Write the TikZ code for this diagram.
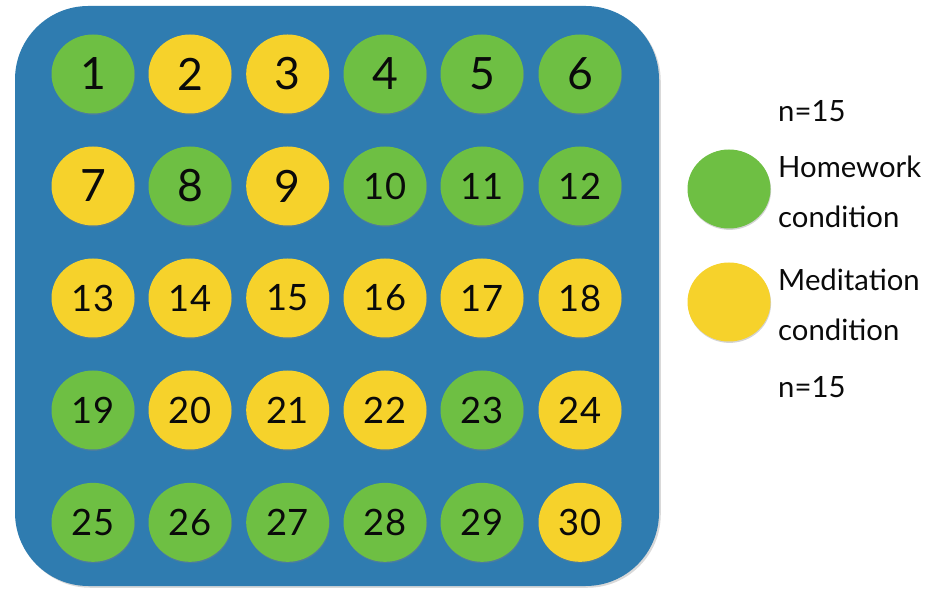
\documentclass[tikz,border=0pt]{standalone}
\usepackage{fontspec}
\setmainfont{Lato}
\usetikzlibrary{shapes.geometric, shadows}
\definecolor{cBoard}{RGB}{47, 124, 176}
\definecolor{cHome}{RGB}{110, 191, 67}
\definecolor{cMed}{RGB}{246, 210, 43}
\definecolor{tDark}{RGB}{10, 10, 10}
\newcommand{\bignum}{\fontsize{38}{38}\selectfont}
\newcommand{\smallnum}{\fontsize{31}{31}\selectfont}

\begin{document}
\begin{tikzpicture}[
    font=\fontsize{25}{42}\selectfont,
    ball/.style={
        ellipse,
        fill=#1,
        minimum width=2.49cm,
        minimum height=2.37cm,
        inner sep=0pt,
        text=tDark,
        font=\bignum,
        drop shadow={shadow xshift=0.5pt, shadow yshift=-1.2pt, opacity=0.35}
    },
    two/.style={font=\smallnum},
    legend/.style={anchor=north west, align=left, inner sep=0pt, text=tDark}
]
\useasboundingbox (0,0) rectangle (28.56,17.7);

% Board
\node[fill=cBoard, rounded corners=2.2cm, minimum width=19.32cm, minimum height=17.4cm,
      inner sep=0pt, drop shadow={shadow xshift=1.5pt, shadow yshift=-1.5pt, opacity=0.3}]
      (board) at (10.11, 8.82) {};

% Row 1
\node[ball=cHome] (n1) at (2.79, 15.48) {1};
\node[ball=cMed]  (n2) at (5.70, 15.48) {2};
\node[ball=cMed]  (n3) at (8.63, 15.48) {3};
\node[ball=cHome] (n4) at (11.55, 15.48) {4};
\node[ball=cHome] (n5) at (14.46, 15.48) {5};
\node[ball=cHome] (n6) at (17.40, 15.48) {6};

% Row 2
\node[ball=cMed]  (n7) at (2.79, 12.12) {7};
\node[ball=cHome] (n8) at (5.70, 12.12) {8};
\node[ball=cMed]  (n9) at (8.63, 12.12) {9};
\node[ball=cHome, two] (n10) at (11.55, 12.12) {10};
\node[ball=cHome, two] (n11) at (14.46, 12.12) {11};
\node[ball=cHome, two] (n12) at (17.40, 12.12) {12};

% Row 3
\node[ball=cMed, two] (n13) at (2.79, 8.76) {13};
\node[ball=cMed, two] (n14) at (5.70, 8.76) {14};
\node[ball=cMed, two] (n15) at (8.63, 8.76) {15};
\node[ball=cMed, two] (n16) at (11.55, 8.76) {16};
\node[ball=cMed, two] (n17) at (14.46, 8.76) {17};
\node[ball=cMed, two] (n18) at (17.40, 8.76) {18};

% Row 4
\node[ball=cHome, two] (n19) at (2.79, 5.40) {19};
\node[ball=cMed, two]  (n20) at (5.70, 5.40) {20};
\node[ball=cMed, two]  (n21) at (8.63, 5.40) {21};
\node[ball=cMed, two]  (n22) at (11.55, 5.40) {22};
\node[ball=cHome, two] (n23) at (14.46, 5.40) {23};
\node[ball=cMed, two]  (n24) at (17.40, 5.40) {24};

% Row 5
\node[ball=cHome, two] (n25) at (2.79, 2.03) {25};
\node[ball=cHome, two] (n26) at (5.70, 2.03) {26};
\node[ball=cHome, two] (n27) at (8.63, 2.03) {27};
\node[ball=cHome, two] (n28) at (11.55, 2.03) {28};
\node[ball=cHome, two] (n29) at (14.46, 2.03) {29};
\node[ball=cMed, two]  (n30) at (17.40, 2.03) {30};

% Legend
\node[anchor=base west, inner sep=0pt, text=tDark] (nHome) at (23.34, 14.04) {n=15};
\node[ball=cHome] (keyHome) at (21.87, 12.03) {};
\node[legend] (labHome) at (23.34, 13.02) {Homework\\condition};
\node[ball=cMed] (keyMed) at (21.87, 8.64) {};
\node[legend] (labMed) at (23.34, 9.63) {Meditation\\condition};
\node[anchor=base west, inner sep=0pt, text=tDark] (nMed) at (23.34, 5.76) {n=15};

\end{tikzpicture}
\end{document}
